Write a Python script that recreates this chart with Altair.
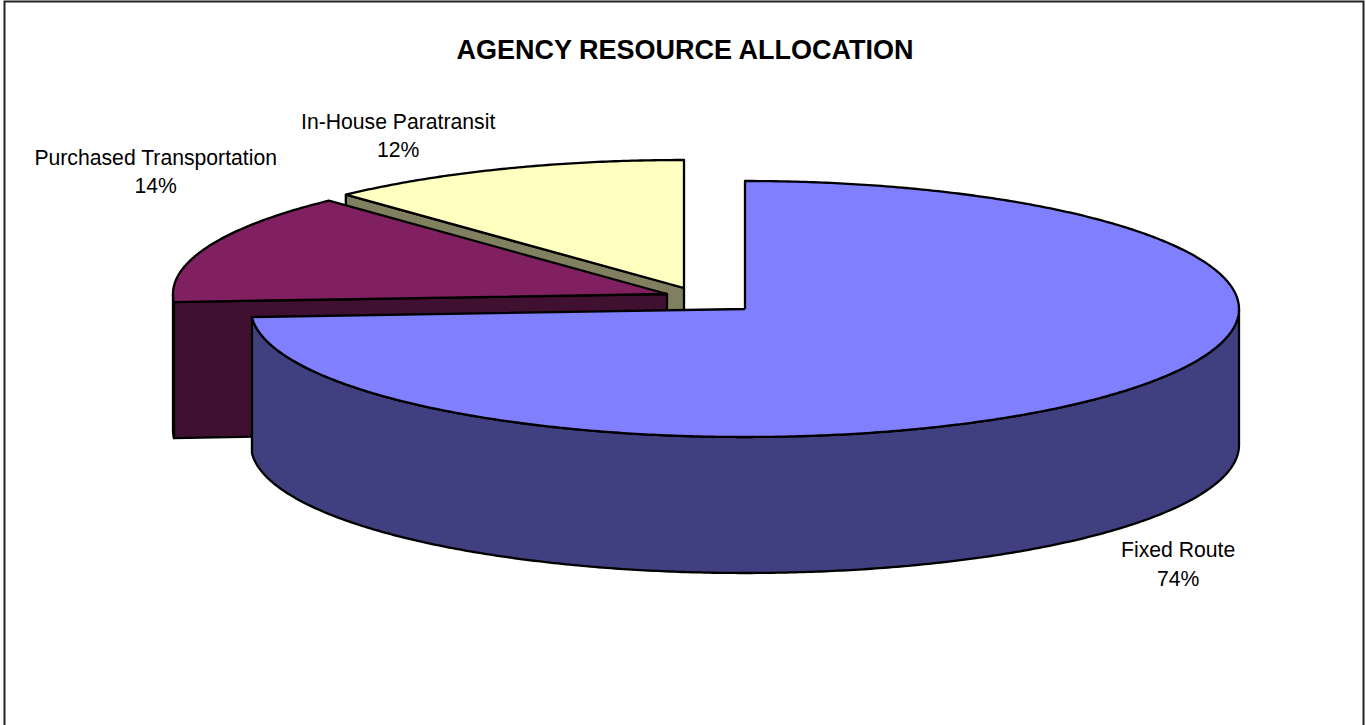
import math
import altair as alt
import pandas as pd

# Pie shares and labels
categories = ["Fixed Route", "Purchased Transportation", "In-House Paratransit"]
shares = [74, 14, 12]
top_colors = ["#8080FF", "#802060", "#FFFFC0"]
side_colors = ["#404080", "#401030", "#808060"]

W, H = 1366, 725
RX, RY, DEPTH = 494, 128, 136
# Exploded wedge centres, and label offsets from the wedge's outer mid-point
centres = [(745, 309), (667, 294), (684, 288)]
label_offsets = [(73, 154.5), (-52, -88), (-104, -46)]
# Chart frame, open along the bottom edge of the page
frame_x = [4.5, 4.5, 1363.5, 1363.5]
frame_y = [725, 1.5, 1.5, 725]


def rim(c, a, drop=0):
    """Point on the wedge's elliptical rim at a clockwise-from-top angle in degrees."""
    t = math.radians(a)
    return (c[0] + RX * math.sin(t), c[1] - RY * math.cos(t) + drop)


def arc(c, a0, a1, drop=0):
    n = max(2, int(abs(a1 - a0) * 2))
    return [rim(c, a0 + (a1 - a0) * i / n, drop) for i in range(n + 1)]


# Slice angle spans, accumulated from the shares
spans = []
acc = 0
for s in shares:
    spans.append((acc * 3.6, (acc + s) * 3.6))
    acc += s

# Polygons in paint order: back wedges first, the near wedge last
polys = []


def add(points, color):
    polys.append((points + [points[0]], color))


# In-House Paratransit: cut face, then top
a0, a1 = spans[2]
c = centres[2]
p = rim(c, a0)
add([p, c, (c[0], c[1] + DEPTH), (p[0], p[1] + DEPTH)], side_colors[2])
add([c] + arc(c, a0, a1), top_colors[2])

# Purchased Transportation: cut face, rim, top
a0, a1 = spans[1]
c = centres[1]
p = rim(c, a0)
add([p, c, (c[0], c[1] + DEPTH), (p[0], p[1] + DEPTH)], side_colors[1])
add(arc(c, a0, 270) + arc(c, 270, a0, DEPTH), side_colors[1])
add([c] + arc(c, a0, a1), top_colors[1])

# Fixed Route: visible rim, then top
a0, a1 = spans[0]
c = centres[0]
add(arc(c, 90, a1) + arc(c, a1, 90, DEPTH), side_colors[0])
add([c] + arc(c, a0, a1), top_colors[0])

rows = []
for pid, (pts, color) in enumerate(polys):
    for i, (x, y) in enumerate(pts):
        rows.append({"pid": pid, "i": i, "x": x, "y": y, "color": color})
df = pd.DataFrame(rows)

x_scale = alt.Scale(domain=[0, W], range=[0, W], nice=False, zero=False)
y_scale = alt.Scale(domain=[0, H], range=[0, H], nice=False, zero=False)
x_enc = alt.X("x:Q", scale=x_scale, axis=None)
y_enc = alt.Y("y:Q", scale=y_scale, axis=None)

layers = []
for pid in range(len(polys)):
    color = polys[pid][1]
    layers.append(
        alt.Chart(df[df.pid == pid])
        .mark_line(fill=color, stroke="#000000", strokeWidth=2.3, strokeJoin="round", filled=False)
        .encode(x=x_enc, y=y_enc, order="i:Q")
    )

frame = (
    alt.Chart(pd.DataFrame({"x": frame_x, "y": frame_y, "i": range(len(frame_x))}))
    .mark_line(stroke="#222222", strokeWidth=2)
    .encode(x=x_enc, y=y_enc, order="i:Q")
)

# Category and percentage labels placed off each wedge's mid-angle
label_rows = []
for name, s, (a0, a1), c, off in zip(categories, shares, spans, centres, label_offsets):
    mx, my = rim(c, (a0 + a1) / 2)
    label_rows.append({"x": mx + off[0], "y": my + off[1], "text": f"{name}\n{s}%"})
labels = (
    alt.Chart(pd.DataFrame(label_rows))
    .mark_text(font="Liberation Sans", fontSize=21.2, color="#000000", align="center",
               baseline="middle", lineBreak="\n", lineHeight=28.5)
    .encode(x=x_enc, y=y_enc, text="text:N")
)

title = (
    alt.Chart(pd.DataFrame({"x": [685], "y": [51], "t": ["AGENCY RESOURCE ALLOCATION"]}))
    .mark_text(font="Liberation Sans", fontSize=27, fontWeight="bold", color="#000000",
               align="center", baseline="middle")
    .encode(x=x_enc, y=y_enc, text="t:N")
)

chart = (
    alt.layer(frame, *layers, labels, title)
    .properties(width=W, height=H, padding=0, background="#FFFFFF",
                autosize=alt.AutoSizeParams(type="none"))
    .configure_view(stroke=None)
)

chart.save("out.html", embed_options={"renderer": "svg", "actions": False})
